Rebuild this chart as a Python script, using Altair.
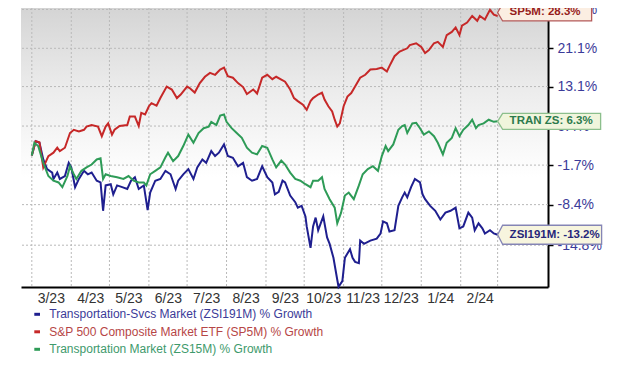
import altair as alt
import pandas as pd

# ---------------- data ----------------
series_keys = ["ZSI191M", "SP5M", "ZS15M"]
legend_labels = [
    "Transportation-Svcs Market (ZSI191M) % Growth",
    "S&P 500 Composite Market ETF (SP5M) % Growth",
    "Transportation Market (ZS15M) % Growth",
]
tag_labels = ["ZSI191M: -13.2%", "SP5M: 28.3%", "TRAN ZS: 6.3%"]

start_date = "2023-03-01"

# (days since start date, % growth)
zsi191m = [
    (0, 0.0), (3, 2.6), (6, 2.3), (9, -0.7), (12, -2.4), (16, -3.0), (17, -4.1), (20, -3.0),
    (22, -4.1), (26, -3.6), (29, -1.3), (31, -2.1), (34, -5.5), (37, -4.1), (41, -2.7),
    (44, -3.3), (47, -3.0), (51, -4.4), (54, -4.7), (56, -9.4), (58, -5.2), (62, -5.0),
    (64, -6.7), (67, -5.2), (71, -5.5), (75, -5.8), (78, -4.4), (81, -3.8), (84, -5.8),
    (88, -5.2), (91, -9.3), (93, -6.4), (97, -4.4), (101, -4.1), (105, -2.7), (109, -3.3),
    (113, -5.8), (115, -4.4), (119, -3.3), (123, -2.4), (127, -4.1), (130, -2.1), (134, -0.7),
    (137, -1.3), (141, 0.8), (144, -0.1), (147, 0.5), (151, 2.0), (154, -0.1), (158, -0.4),
    (162, -1.9), (166, -1.3), (169, -3.8), (173, -4.4), (177, -4.1), (181, -1.9), (185, -3.8),
    (189, -4.7), (191, -6.7), (194, -6.3), (197, -4.4), (199, -4.7), (203, -6.9), (207, -8.0),
    (209, -8.9), (212, -8.6), (215, -10.3), (216, -11.9), (219, -15.2), (221, -11.9),
    (223, -10.5), (225, -12.5), (229, -10.3), (232, -13.6), (234, -14.6), (237, -16.7),
    (240, -19.9), (241, -20.9), (244, -20.1), (246, -16.7), (250, -15.4), (252, -16.7),
    (254, -17.3), (257, -17.5), (258, -14.1), (261, -14.6), (266, -14.1), (271, -13.8),
    (274, -13.0), (276, -11.1), (279, -11.4), (281, -12.7), (285, -12.5), (288, -8.6),
    (291, -7.2), (293, -6.4), (295, -7.2), (298, -5.5), (301, -4.1), (305, -4.7), (307, -6.7),
    (309, -7.5), (313, -8.6), (317, -9.4), (321, -10.8), (325, -9.7), (329, -9.4), (333, -8.9),
    (336, -12.2), (339, -11.9), (343, -9.7), (346, -10.5), (348, -12.5), (351, -11.4),
    (354, -12.2), (356, -13.0), (360, -12.5), (363, -13.0), (366, -13.2),
]

sp5m = [
    (0, 0.0), (3, 2.6), (6, 2.4), (9, -2.1), (13, -0.1), (17, 0.5), (20, 1.4), (22, 0.8),
    (26, 1.4), (30, 4.1), (33, 4.7), (37, 4.4), (41, 4.7), (43, 5.3), (47, 5.6), (52, 5.3),
    (55, 3.5), (58, 5.3), (60, 5.9), (63, 3.8), (65, 4.7), (69, 5.4), (75, 5.6), (77, 7.2),
    (81, 7.2), (84, 5.4), (86, 7.9), (89, 7.6), (92, 9.2), (94, 9.8), (98, 9.3), (101, 10.8),
    (106, 13.1), (110, 12.5), (114, 10.8), (117, 11.5), (122, 13.1), (124, 12.8), (128, 11.9),
    (132, 13.8), (136, 15.1), (140, 15.9), (144, 15.5), (148, 16.6), (151, 17.0), (154, 15.2),
    (158, 14.9), (162, 13.8), (166, 13.0), (169, 11.6), (174, 12.5), (177, 11.7), (181, 14.9),
    (185, 15.5), (189, 14.6), (192, 15.1), (199, 14.1), (203, 12.5), (206, 10.8), (209, 10.2),
    (213, 9.5), (216, 8.5), (219, 10.2), (221, 10.8), (225, 11.5), (228, 11.9), (230, 10.5),
    (233, 9.2), (236, 8.2), (238, 6.6), (240, 5.3), (242, 5.9), (245, 9.2), (248, 11.1),
    (251, 11.8), (254, 13.1), (258, 14.9), (262, 15.5), (266, 16.6), (271, 16.7), (275, 17.0),
    (279, 16.2), (281, 17.3), (285, 19.4), (289, 20.4), (295, 21.1), (297, 21.8), (302, 22.2),
    (306, 21.4), (309, 20.1), (312, 20.7), (316, 22.2), (319, 22.5), (323, 21.4), (326, 24.0),
    (330, 24.7), (333, 25.7), (336, 24.0), (338, 26.1), (342, 26.8), (346, 28.3), (350, 27.2),
    (352, 28.3), (356, 27.5), (360, 29.7), (363, 28.6), (366, 28.3),
]

zs15m = [
    (0, 0.0), (2, 2.3), (5, 1.7), (9, -1.3), (13, -3.6), (17, -4.4), (21, -4.7), (24, -5.5),
    (28, -3.6), (30, -1.9), (33, -3.3), (35, -4.1), (39, -2.7), (43, -2.1), (47, -1.6),
    (51, -0.7), (54, -0.5), (56, -4.1), (58, -3.3), (62, -3.6), (67, -3.8), (72, -4.1),
    (76, -3.6), (80, -4.4), (84, -4.7), (88, -4.7), (90, -5.2), (93, -3.3), (97, -2.7),
    (101, -2.1), (105, -0.3), (107, 0.5), (111, -1.0), (115, -0.1), (119, 1.7), (123, 3.8),
    (127, 2.3), (131, 4.1), (135, 5.0), (139, 5.3), (141, 6.2), (145, 5.6), (148, 7.4),
    (151, 7.6), (153, 6.2), (157, 5.0), (161, 4.1), (165, 3.2), (169, 1.4), (173, 0.5),
    (177, 0.2), (181, 1.7), (185, 1.4), (189, -0.7), (192, -2.1), (196, -0.9), (199, -1.6),
    (203, -3.0), (207, -4.1), (211, -4.4), (215, -5.0), (219, -5.5), (221, -4.4), (225, -4.4),
    (228, -3.8), (230, -5.8), (234, -7.5), (238, -8.9), (240, -11.4), (243, -9.7), (246, -6.9),
    (249, -6.4), (253, -7.5), (257, -5.2), (260, -3.3), (264, -2.4), (268, -1.9), (272, -2.7),
    (275, -0.1), (278, 1.7), (280, 0.8), (284, 2.0), (288, 4.7), (291, 5.4), (293, 5.6),
    (295, 4.1), (299, 5.9), (302, 6.0), (305, 5.0), (308, 3.8), (312, 4.4), (316, 3.5),
    (319, 2.3), (323, 0.2), (326, 2.3), (330, 3.2), (333, 5.0), (336, 3.5), (339, 4.7),
    (343, 5.6), (346, 6.6), (349, 5.0), (351, 5.6), (355, 5.9), (359, 6.6), (363, 6.2),
    (366, 6.3),
]

y_tick_pct = [-14.8, -8.4, -1.7, 5.4, 13.1, 21.1, 29.8]
month_starts = [(2023, m) for m in range(3, 13)] + [(2024, 1), (2024, 2), (2024, 3)]

# ---------------- styles ----------------
line_colors = ["#1f1f8f", "#c62828", "#2e9b57"]
legend_text_colors = ["#3b3b98", "#b64646", "#3e9a6c"]
tag_fill = ["#f7f5de", "#fbeee2", "#f0f5dc"]
tag_stroke = ["#8585b5", "#b45a5a", "#8cbf8c"]
tag_text = ["#26267a", "#961c1c", "#2c7a4c"]
tag_path = [
    "M0,0 L0.05,-0.095 L1.04,-0.095 L1.04,0.095 L0.05,0.095 Z",
    "M0,-0.035 L0.05,-0.12 L0.94,-0.12 L0.94,0.05 L0.05,0.05 Z",
    "M0,0 L0.05,-0.08 L1.03,-0.08 L1.03,0.08 L0.05,0.08 Z",
]
tag_dy = [0, -3.5, 0]
FONT = "Liberation Sans"
W, H = 527, 287

# ---------------- frames ----------------
t0 = pd.Timestamp(start_date)
rows = []
for key, pts in zip(series_keys, [zsi191m, sp5m, zs15m]):
    for d, v in pts:
        rows.append({"series": key,
                     "date": (t0 + pd.Timedelta(days=d)).strftime("%Y-%m-%dT00:00:00"),
                     "pct": v})
df = pd.DataFrame(rows)

ratio_expr = "1 + datum.pct / 100"

x_enc = alt.X(
    "date:T",
    scale=alt.Scale(domain=[alt.DateTime(year=2023, month=2, date=20, hours=12),
                            alt.DateTime(year=2024, month=4, date=9, hours=14)]),
    axis=alt.Axis(
        values=[alt.DateTime(year=y, month=m, date=1) for y, m in month_starts],
        labelExpr="(year(datum.value) == 2024 && month(datum.value) == 2) ? '' : timeFormat(datum.value, '%-m/%y')",
        labelOffset=19, grid=False, ticks=False, tickSize=0,
        domainColor="black", domainWidth=2,
        labelColor="#333333", labelFont=FONT, labelFontSize=14, labelPadding=4,
        labelFlush=False, labelOverlap=False, labelBound=False,
        title=None, zindex=0,
    ),
)

y_enc = alt.Y(
    "ratio:Q",
    scale=alt.Scale(type="log", domain=[0.7907, 1.3201], nice=False, zero=False),
    axis=alt.Axis(
        orient="right",
        values=[1 + p / 100 for p in y_tick_pct],
        labelExpr="datum.value < 1 ? '-' + format((1 - datum.value) * 100, '.1f') + '%' : format((datum.value - 1) * 100, '.1f') + '%'",
        grid=False, domainColor="black", domainWidth=2,
        tickColor="black", tickSize=5, tickWidth=1.5,
        labelColor="#3b3b99", labelFont=FONT, labelFontSize=14, labelPadding=4,
        labelFlush=False, labelOverlap=False, labelBound=False,
        title=None, zindex=0,
    ),
)

gradient = alt.Gradient(
    gradient="linear",
    stops=[alt.GradientStop(color="#d2d2d2", offset=0),
           alt.GradientStop(color="#ebebeb", offset=0.3),
           alt.GradientStop(color="#ffffff", offset=0.62),
           alt.GradientStop(color="#ffffff", offset=1)],
    x1=0, x2=0, y1=0, y2=1,
)

bg = alt.Chart(alt.Data(values=[{}])).mark_rect(color=gradient).encode(
    x=alt.value(0), x2=alt.value(W - 1), y=alt.value(0), y2=alt.value(H - 1)
)

vgrid = alt.Chart(pd.DataFrame({
    "date": [f"{y}-{m:02d}-01T00:00:00" for y, m in month_starts]
})).mark_rule(color="#b9b9b9", strokeDash=[2, 2], strokeWidth=1).encode(x=x_enc)

hgrid = alt.Chart(pd.DataFrame({"pct": y_tick_pct})).transform_calculate(
    ratio=ratio_expr
).mark_rule(color="#b9b9b9", strokeDash=[2, 2], strokeWidth=1).encode(y=y_enc)

lines = alt.Chart(df).transform_calculate(ratio=ratio_expr).mark_line(
    strokeWidth=2, interpolate="linear"
).encode(
    x=x_enc, y=y_enc,
    color=alt.Color("series:N", scale=alt.Scale(domain=series_keys, range=line_colors), legend=None),
)

layers = [bg, vgrid, hgrid, lines]

for i, pts in enumerate([zsi191m, sp5m, zs15m]):
    d, v = pts[-1]
    tdf = pd.DataFrame({
        "date": [(t0 + pd.Timedelta(days=d)).strftime("%Y-%m-%dT00:00:00")],
        "pct": [v],
        "label": [tag_labels[i]],
    })
    base = alt.Chart(tdf).transform_calculate(ratio=ratio_expr)
    layers.append(base.mark_point(
        shape=tag_path[i], size=40000, filled=True, fill=tag_fill[i],
        stroke=tag_stroke[i], strokeWidth=1.3, opacity=1,
    ).encode(x=x_enc, y=y_enc))
    layers.append(base.mark_text(
        align="left", baseline="middle", dx=12, dy=tag_dy[i], font=FONT,
        fontSize=11.5, fontWeight="bold", color=tag_text[i],
    ).encode(x=x_enc, y=y_enc, text="label:N"))

for i, lab in enumerate(legend_labels):
    yy = 314.3 + 17.5 * i
    one = alt.Chart(alt.Data(values=[{}]))
    layers.append(one.mark_rule(color=line_colors[i], strokeWidth=3).encode(
        x=alt.value(13.3), x2=alt.value(19), y=alt.value(yy)))
    layers.append(one.mark_text(
        align="left", baseline="middle", font=FONT, fontSize=12, color=legend_text_colors[i]
    ).encode(x=alt.value(28.3), y=alt.value(yy), text=alt.value(lab)))

chart = alt.layer(*layers).properties(
    width=W, height=H,
    padding={"left": 13, "top": -8, "right": 64, "bottom": 76},
    autosize=alt.AutoSizeParams(type="none"),
).configure_view(stroke=None)

chart.save("out.html", embed_options={"renderer": "svg", "actions": False})
